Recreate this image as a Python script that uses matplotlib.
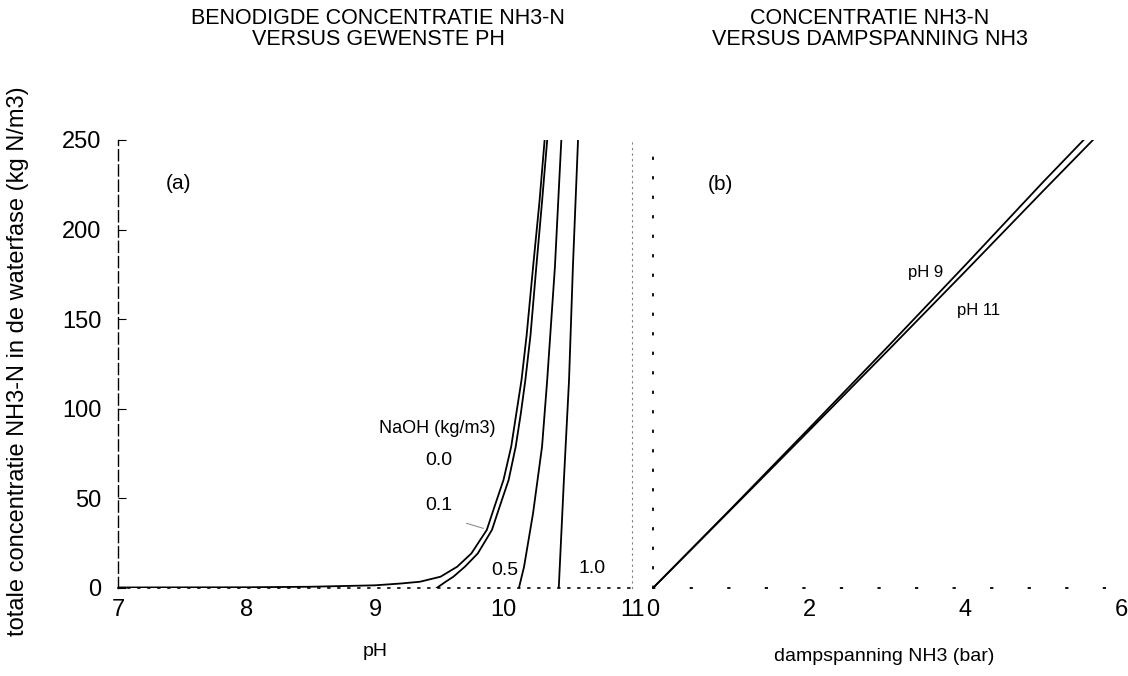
import numpy as np
import matplotlib.pyplot as plt

plt.rcParams['font.family'] = ['Liberation Sans', 'DejaVu Sans']

# (a) benodigde NH3-N concentratie (kg N/m3) versus pH, per NaOH dosering
ph_00 = [7.0, 8.0, 8.5, 9.0, 9.2, 9.35, 9.51, 9.64, 9.75, 9.87, 9.93, 10.0,
         10.06, 10.10, 10.14, 10.18, 10.23, 10.28, 10.32]
c_00 = [0.3, 0.4, 0.7, 1.5, 2.5, 3.5, 6.3, 11.9, 19.3, 32.4, 45.4, 60.3,
        78.9, 97.5, 116, 141, 179, 215.6, 250]
ph_01 = [9.48, 9.55, 9.61, 9.70, 9.80, 9.91, 9.97, 10.04, 10.095, 10.135,
         10.17, 10.21, 10.255, 10.30, 10.34]
c_01 = [0, 3.5, 6.3, 11.9, 19.3, 32.4, 45.4, 60.3, 78.9, 97.5, 116, 141,
        179, 215.6, 250]
ph_05 = [10.12, 10.16, 10.23, 10.30, 10.34, 10.40, 10.45]
c_05 = [0, 11.9, 41.7, 78.9, 116, 179, 250]
ph_10 = [10.43, 10.47, 10.51, 10.54, 10.58]
c_10 = [0, 60.3, 116, 179, 250]

# (b) concentratie versus dampspanning NH3 (bar)
p_ph9 = [0, 1, 2, 3, 4, 5, 5.52]
c_ph9 = [0, 44.2, 89, 134.2, 180, 226.5, 250]
p_ph11 = [0, 1, 2, 3, 4, 5, 5.64]
c_ph11 = [0, 43.8, 87.8, 132, 176.5, 221.5, 250]

y_ticks = [0, 50, 100, 150, 200, 250]
ph_ticks = [7, 8, 9, 10, 11]
p_ticks = [0, 2, 4, 6]

fig = plt.figure(figsize=(11.28, 6.76), dpi=100)
ax1 = fig.add_axes([118 / 1128, 88 / 676, 514 / 1128, 448 / 676])
ax2 = fig.add_axes([653 / 1128, 88 / 676, 468 / 1128, 448 / 676])

lw = 1.3
for x, y in [(ph_00, c_00), (ph_01, c_01), (ph_05, c_05), (ph_10, c_10)]:
    ax1.plot(x, y, color='black', lw=lw)
# leader van label 0.1 naar de curve
ax1.plot([9.713, 9.842], [36.1, 33.3], color='gray', lw=0.7)

ax1.set_xlim(7, 11)
ax1.set_ylim(0, 250)
ax1.set_xticks(ph_ticks)
ax1.set_yticks(y_ticks)
ax1.tick_params(axis='x', length=0, pad=8, labelsize=17)
ax1.tick_params(axis='y', direction='in', length=6, width=0.8, pad=12, labelsize=17)

ax1.text(7.467, 226, '(a)', fontsize=15, ha='center', va='center')
ax1.text(9.934, 89, 'NaOH (kg/m3)', fontsize=13, ha='right', va='center')
ax1.text(9.498, 71.4, '0.0', fontsize=14, ha='center', va='center')
ax1.text(9.498, 45.8, '0.1', fontsize=14, ha='center', va='center')
ax1.text(10.01, 10, '0.5', fontsize=14, ha='center', va='center')
ax1.text(10.69, 11, '1.0', fontsize=14, ha='center', va='center')
ax1.set_xlabel('pH', fontsize=14, labelpad=16)

ax2.plot(p_ph9, c_ph9, color='black', lw=lw)
ax2.plot(p_ph11, c_ph11, color='black', lw=lw)
ax2.set_xlim(0, 6)
ax2.set_ylim(0, 250)
ax2.set_xticks(p_ticks)
ax2.set_yticks([])
ax2.tick_params(axis='x', length=0, pad=8, labelsize=17)
ax2.text(0.86, 225, '(b)', fontsize=15, ha='center', va='center')
ax2.text(3.49, 176, 'pH 9', fontsize=12, ha='center', va='center')
ax2.text(4.17, 155, 'pH 11', fontsize=12, ha='center', va='center')
ax2.set_xlabel('dampspanning NH3 (bar)', fontsize=14)
ax2.xaxis.set_label_coords(0.495, -0.135)

for ax in (ax1, ax2):
    ax.spines['top'].set_visible(False)
ax1.spines['bottom'].set_linestyle((0, (1, 5)))
ax1.spines['bottom'].set_linewidth(1.2)
ax1.spines['left'].set_linestyle((0, (8, 3)))
ax1.spines['left'].set_linewidth(1.0)
ax1.spines['right'].set_linestyle((0, (1, 4)))
ax1.spines['right'].set_color('gray')
ax2.spines['right'].set_visible(False)
ax2.spines['left'].set_linestyle((0, (0.8, 10)))
ax2.spines['left'].set_linewidth(1.3)
ax2.spines['bottom'].set_linestyle((0, (0.8, 20)))
ax2.spines['bottom'].set_linewidth(1.3)

fig.text(378 / 1128, 1 - 29 / 676, 'BENODIGDE CONCENTRATIE NH3-N\nVERSUS GEWENSTE PH',
         fontsize=15.5, ha='center', va='center', linespacing=0.95)
fig.text(870 / 1128, 1 - 29 / 676, 'CONCENTRATIE NH3-N\nVERSUS DAMPSPANNING NH3',
         fontsize=15.5, ha='center', va='center', linespacing=0.95)
fig.text(18 / 1128, 1 - 361 / 676, 'totale concentratie NH3-N in de waterfase (kg N/m3)',
         fontsize=17, rotation=90, ha='center', va='center')

fig.savefig('out.png', dpi=100)
